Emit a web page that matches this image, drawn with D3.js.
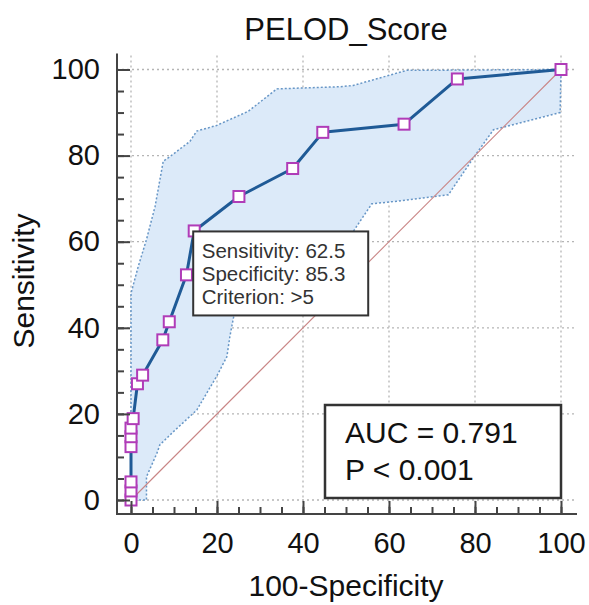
<!DOCTYPE html>
<html>
<head>
<meta charset="utf-8">
<script src="https://cdn.jsdelivr.net/npm/d3@7"></script>
<style>
  body { margin: 0; background: #fff; }
  text { font-family: "Liberation Sans", Arial, sans-serif; fill: #111; }
</style>
</head>
<body>
<div class="container"></div>
<script>
var w = 589;
var h = 605;

// ROC curve points (100-Specificity, Sensitivity)
var rocX = [0, 0, 0, 0, 0, 0, 0.5, 1.5, 2.7, 7.4, 8.9, 12.9, 14.7, 25.1, 37.6, 44.6, 63.5, 75.9, 100];
var rocY = [0, 2.1, 4.2, 12.4, 14.7, 16.7, 18.9, 27, 29, 37.2, 41.4, 52.3, 62.5, 70.5, 77, 85.4, 87.3, 97.8, 100];

// confidence band
var upperX = [0, 0, 1.7, 3.6, 5.6, 7.5, 9.1, 13.7, 15.3, 19.9, 27.3, 33.9, 48.6, 51.7, 64.1, 100];
var upperY = [0, 48, 54.3, 60.5, 68.2, 78.7, 79.8, 83.3, 85.7, 87, 90.3, 95.5, 96, 96.3, 99.8, 100];
var lowerX = [0, 3.6, 3.6, 6, 6.7, 10, 15.3, 19.9, 22.3, 23, 23.8, 25, 35, 48, 51.7, 56, 61.8, 73.8, 80, 84.3, 99.8, 100];
var lowerY = [0, 0, 5.4, 10.8, 12.8, 16, 20.9, 28.7, 33.3, 38, 42.2, 47, 55, 60, 62.4, 68.8, 69.4, 70.9, 80, 86, 90, 100];

var ticks = [0, 20, 40, 60, 80, 100];
var minorTicks = d3.range(0, 101, 5);

var title = "PELOD_Score";
var xTitle = "100-Specificity";
var yTitle = "Sensitivity";
var tipLines = ["Sensitivity: 62.5", "Specificity: 85.3", "Criterion: >5"];
var tipPoint = [14.7, 62.5];
var statLines = ["AUC = 0.791", "P < 0.001"];

var roc = rocX.map((d, i) => [d, rocY[i]]);
var upper = upperX.map((d, i) => [d, upperY[i]]);
var lower = lowerX.map((d, i) => [d, lowerY[i]]);

var canvas = d3.select(".container").append("svg")
  .attr("width", w)
  .attr("height", h);

var x = d3.scaleLinear().domain([0, 100]).range([131, 561]);
var y = d3.scaleLinear().domain([0, 100]).range([500, 69.5]);
var pad = 14;
var plotL = x(0) - pad, plotR = x(100) + pad, plotT = y(100) - pad, plotB = y(0) + pad;

// grid
var grid = canvas.append("g").attr("stroke", "#b5b5b5").attr("stroke-width", 1.3).attr("stroke-dasharray", "2,3");
grid.selectAll(".gx").data(ticks).enter().append("line")
  .attr("x1", (d) => x(d)).attr("x2", (d) => x(d))
  .attr("y1", plotT).attr("y2", plotB);
grid.selectAll(".gy").data(ticks).enter().append("line")
  .attr("x1", plotL).attr("x2", plotR)
  .attr("y1", (d) => y(d)).attr("y2", (d) => y(d));

// confidence band
var line = d3.line().x((d) => x(d[0])).y((d) => y(d[1]));
canvas.append("path")
  .attr("d", line(upper.concat(lower.slice().reverse())))
  .attr("fill", "#dceaf9");
[upper, lower].forEach((b) => {
  canvas.append("path")
    .attr("d", line(b))
    .attr("fill", "none")
    .attr("stroke", "#6796c6")
    .attr("stroke-width", 1.5)
    .attr("stroke-dasharray", "2,2");
});

// diagonal
canvas.append("path")
  .attr("d", line([[0, 0], [100, 100]]))
  .attr("stroke", "#c98585")
  .attr("stroke-width", 1.1)
  .attr("fill", "none");

// ROC line
canvas.append("path")
  .attr("d", line(roc))
  .attr("fill", "none")
  .attr("stroke", "#1f5a96")
  .attr("stroke-width", 3)
  .attr("stroke-linejoin", "round");

var s = 11;
canvas.append("g").selectAll("rect").data(roc).enter().append("rect")
  .attr("x", (d) => x(d[0]) - s / 2)
  .attr("y", (d) => y(d[1]) - s / 2)
  .attr("width", s).attr("height", s)
  .attr("fill", "#fff")
  .attr("stroke", "#b03cb8")
  .attr("stroke-width", 2);

// axes
function styleAxis(g) {
  g.select(".domain").remove();
  g.selectAll(".tick line").attr("stroke", "#444").attr("stroke-width", 2);
  g.selectAll("text").attr("font-size", 29).attr("fill", "#111")
    .attr("font-family", "Liberation Sans, Arial, sans-serif");
}
canvas.append("g").attr("transform", "translate(0," + plotB + ")")
  .call(d3.axisBottom(x).tickValues(minorTicks).tickSizeInner(-7).tickSizeOuter(0).tickFormat(""))
  .call(styleAxis);
canvas.append("g").attr("transform", "translate(0," + plotB + ")")
  .call(d3.axisBottom(x).tickValues(ticks).tickSizeInner(-13).tickSizeOuter(0).tickPadding(18))
  .call(styleAxis);
canvas.append("g").attr("transform", "translate(" + plotL + ",0)")
  .call(d3.axisLeft(y).tickValues(minorTicks).tickSizeInner(-7).tickSizeOuter(0).tickFormat(""))
  .call(styleAxis);
canvas.append("g").attr("transform", "translate(" + plotL + ",0)")
  .call(d3.axisLeft(y).tickValues(ticks).tickSizeInner(-13).tickSizeOuter(0).tickPadding(17))
  .call(styleAxis);

// spines
canvas.append("path")
  .attr("d", "M" + plotL + "," + (plotT - 2) + "V" + plotB + "H" + (plotR + 2))
  .attr("fill", "none")
  .attr("stroke", "#444")
  .attr("stroke-width", 2);

// tooltip box
var tip = canvas.append("g").attr("transform", "translate(" + (x(tipPoint[0]) - 1) + "," + (y(tipPoint[1]) + 0.5) + ")");
tip.append("rect").attr("width", 175).attr("height", 84)
  .attr("fill", "#fff").attr("stroke", "#333").attr("stroke-width", 2);
tip.selectAll("text").data(tipLines).enter().append("text")
  .attr("x", 8.5).attr("y", (d, i) => 26.5 + i * 23.2)
  .attr("font-size", 20.5).style("fill", "#333")
  .text((d) => d);

// AUC box
var stat = canvas.append("g").attr("transform", "translate(" + (x(100) - 236) + "," + (y(0) - 95) + ")");
stat.append("rect").attr("width", 236).attr("height", 93)
  .attr("fill", "#fff").attr("stroke", "#333").attr("stroke-width", 2.5);
stat.selectAll("text").data(statLines).enter().append("text")
  .attr("x", 20).attr("y", (d, i) => 38 + i * 37)
  .attr("font-size", 30)
  .text((d) => d);

// titles
canvas.append("text").attr("x", x(50)).attr("y", 39.5)
  .attr("text-anchor", "middle").attr("font-size", 31).text(title);
canvas.append("text").attr("x", x(50)).attr("y", 596)
  .attr("text-anchor", "middle").attr("font-size", 30).text(xTitle);
canvas.append("text").attr("transform", "translate(34," + 281 + ") rotate(-90)")
  .attr("text-anchor", "middle").attr("font-size", 30).text(yTitle);
</script>
</body>
</html>
